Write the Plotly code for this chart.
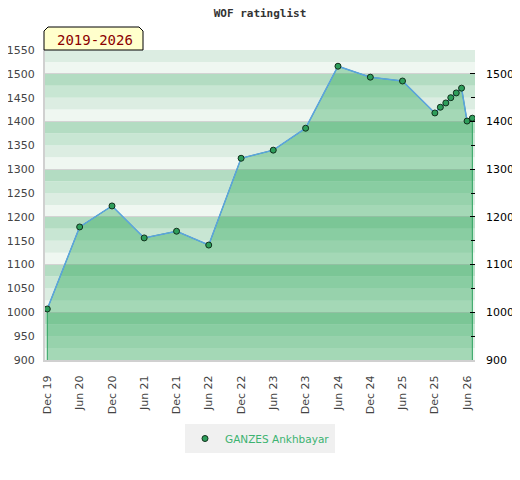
import plotly.graph_objects as go

# rating history
dates = ["2019-12-01", "2020-06-01", "2020-12-01", "2021-06-01", "2021-12-01",
         "2022-06-01", "2022-12-01", "2023-06-01", "2023-12-01", "2024-06-01",
         "2024-12-01", "2025-06-01", "2025-12-01", "2026-01-01", "2026-02-01",
         "2026-03-01", "2026-04-01", "2026-05-01", "2026-06-01", "2026-07-01"]
ratings = [1007, 1179, 1223, 1156, 1170, 1141, 1323, 1340, 1386, 1516,
           1493, 1485, 1418, 1430, 1439, 1450, 1460, 1470, 1401, 1407]
player = "GANZES Ankhbayar"
period = "2019-2026"

y_min, y_max = 900, 1550
font = "DejaVu Sans"

fig = go.Figure()

# filled area under the rating line (closed down to the axis floor)
fig.add_trace(go.Scatter(
    x=[dates[0]] + dates + [dates[-1]],
    y=[y_min] + ratings + [y_min],
    mode="lines", fill="toself",
    fillcolor="rgba(7,153,60,0.32)",
    line=dict(color="#2ca25f", width=1),
    hoverinfo="skip", showlegend=False,
))
fig.add_trace(go.Scatter(
    x=dates, y=ratings, mode="lines",
    line=dict(color="#5ca3e0", width=1.5),
    hoverinfo="skip", showlegend=False,
))
fig.add_trace(go.Scatter(
    x=dates, y=ratings, mode="markers", name=player,
    marker=dict(size=6, color="#2e9e5b", line=dict(color="#10301c", width=1)),
))
# invisible trace to carry the right-hand axis
fig.add_trace(go.Scatter(x=[dates[0]], y=[ratings[0]], yaxis="y2",
                         mode="markers", marker=dict(opacity=0),
                         hoverinfo="skip", showlegend=False))

# striped background, 4 shades per 100 points
band_cols = {0: "#eff7f1", 25: "#dcede2", 50: "#c8e6d3", 75: "#b3dcc2"}
shapes = []
for lo in range(y_min, y_max, 25):
    shapes.append(dict(type="rect", xref="paper", yref="y", x0=0, x1=1,
                       y0=lo, y1=lo + 25, fillcolor=band_cols[lo % 100],
                       line=dict(width=0), layer="below"))

# period tag with cut top corners
x0, x1 = -1 / 430, 98 / 430
y0, y1 = 1.0, 1 + 23 / 310
cx, cy = 4 / 430, 4 / 310
shapes.append(dict(
    type="path", xref="paper", yref="paper",
    path=(f"M {x0},{y0} L {x0},{y1 - cy} L {x0 + cx},{y1} L {x1 - cx},{y1} "
          f"L {x1},{y1 - cy} L {x1},{y0} Z"),
    fillcolor="#ffffcc", line=dict(color="black", width=1), layer="above",
))

# page body adds 8px on the left/top, margins compensate
fig.update_layout(
    width=520, height=480,
    margin=dict(l=37, r=53, t=42, b=128),
    paper_bgcolor="white", plot_bgcolor="white",
    title=dict(text="<b>WOF ratinglist</b>", x=(260 - 8) / 520,
               xanchor="center", y=1 - 5 / 480, yanchor="middle",
               font=dict(family="DejaVu Sans Mono", size=11, color="#333")),
    shapes=shapes,
    annotations=[dict(text=period, xref="paper", yref="paper",
                      x=50 / 430, y=(360 - 40) / 310, showarrow=False,
                      xanchor="center", yanchor="middle",
                      font=dict(family="DejaVu Sans Mono", size=14,
                                color="#8b0000"))],
    xaxis=dict(range=["2019-11-18", "2026-07-16"], type="date",
               tick0="2019-12-01", dtick="M6", tickformat="%b %y",
               tickangle=-90, ticks="", showgrid=False, zeroline=False,
               showline=True, linecolor="#d0d0d0", linewidth=2,
               ticklabelstandoff=9, automargin=False,
               tickfont=dict(family=font, size=11, color="#444")),
    yaxis=dict(range=[y_min, y_max], dtick=50, tick0=y_min, ticks="",
               showgrid=False, zeroline=False, showline=True,
               linecolor="#d0d0d0", linewidth=2, ticklabelstandoff=6,
               automargin=False,
               tickfont=dict(family=font, size=11, color="#444")),
    yaxis2=dict(range=[y_min, y_max], overlaying="y", side="right",
                dtick=100, tick0=y_min, ticks="inside", ticklen=5,
                tickcolor="black", showgrid=True, gridcolor="#d3d3d3",
                gridwidth=1, zeroline=False, showline=False,
                minor=dict(dtick=50, tick0=y_min, ticks="inside", ticklen=4,
                           tickcolor="black", showgrid=False),
                ticklabelstandoff=10, automargin=False,
                tickfont=dict(family=font, size=11, color="black")),
    legend=dict(orientation="h", x=0.5, xanchor="center",
                y=-(424 - 360) / 310, yanchor="top",
                bgcolor="#f0f0f0", borderwidth=0, itemwidth=30,
                font=dict(family=font, size=10.5, color="#3cb371")),
)

fig.write_html("out.html")
